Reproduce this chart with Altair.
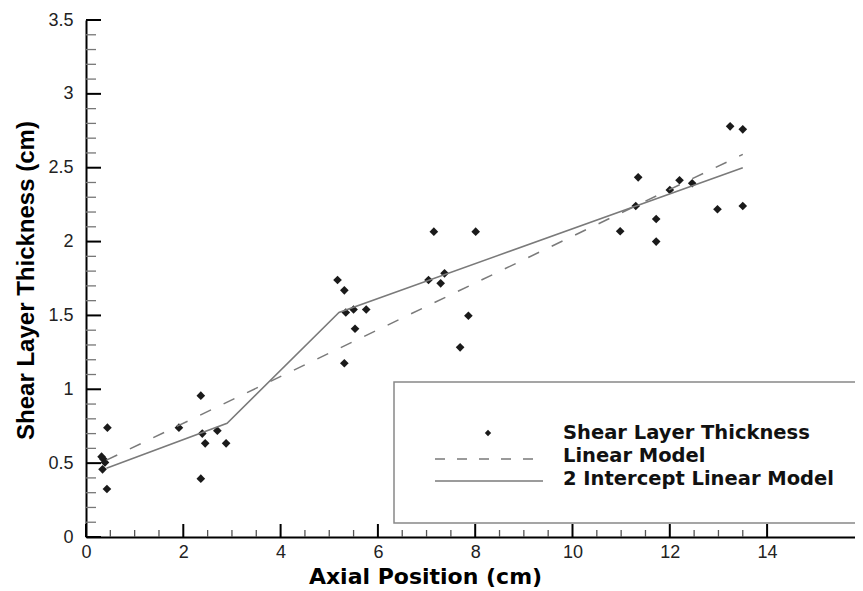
import altair as alt
import pandas as pd

# ---- data ----
pt_x = [0.32, 0.36, 0.39, 0.34, 0.43, 0.44,
        1.91, 2.36, 2.39, 2.45, 2.70, 2.88, 2.36,
        5.17, 5.31, 5.34, 5.50, 5.76, 5.53, 5.31,
        7.15, 8.01, 7.04, 7.37, 7.29, 7.86, 7.69,
        11.35, 11.30, 10.98, 11.72, 11.72, 12.00, 12.20, 12.46, 12.98, 13.50,
        13.24, 13.50]
pt_y = [0.544, 0.526, 0.505, 0.458, 0.325, 0.74,
        0.74, 0.957, 0.70, 0.634, 0.72, 0.634, 0.395,
        1.74, 1.67, 1.52, 1.54, 1.54, 1.41, 1.176,
        2.067, 2.067, 1.74, 1.785, 1.717, 1.498, 1.284,
        2.435, 2.241, 2.07, 2.153, 2.0, 2.349, 2.415, 2.395, 2.219, 2.241,
        2.78, 2.76]

lin_x = [0.42, 13.5]
lin_y = [0.52, 2.59]

two_x = [0.42, 2.9, 5.2, 13.5]
two_y = [0.465, 0.77, 1.52, 2.5]

x_major = [0, 2, 4, 6, 8, 10, 12, 14]
x_minor = [0.5, 1, 1.5, 2.5, 3, 3.5, 4.5, 5, 5.5, 6.5, 7, 7.5, 8.5, 9, 9.5,
           10.5, 11, 11.5, 12.5, 13, 13.5]
y_major = [0, 0.5, 1, 1.5, 2, 2.5, 3, 3.5]
y_minor = [0.1, 0.2, 0.3, 0.4, 0.6, 0.7, 0.8, 0.9, 1.1, 1.2, 1.3, 1.4,
           1.6, 1.7, 1.8, 1.9, 2.1, 2.2, 2.3, 2.4, 2.6, 2.7, 2.8, 2.9,
           3.1, 3.2, 3.3, 3.4]

legend_labels = ["Shear Layer Thickness", "Linear Model", "2 Intercept Linear Model"]

x_title = "Axial Position (cm)"
y_title = "Shear Layer Thickness (cm)"

# ---- layout ----
W = 769
H = 517
PX_PER_X = 48.65
X_MAX = W / PX_PER_X

xs = alt.Scale(domain=[0, X_MAX], nice=False, zero=False)
ys = alt.Scale(domain=[0, 3.5], nice=False)

LINE_COLOR = "#7a7a7a"

X_AX = alt.Axis(
    values=x_major, ticks=False, grid=False, domainColor="black", domainWidth=2,
    labelFont="Liberation Sans", labelFontSize=18, labelColor="#222",
    labelPadding=6, labelFlush=False, labelOverlap=False,
    title=x_title, titleFont="DejaVu Sans", titleFontSize=22, titleFontWeight="bold",
    titleColor="black", titleX=339, titleY=46, titleAlign="center",
    titleBaseline="alphabetic")
Y_AX = alt.Axis(
    values=y_major, format="~g", ticks=False, grid=False, domainColor="black",
    domainWidth=2, labelFont="Liberation Sans", labelFontSize=18, labelColor="#222",
    labelPadding=13, labelFlush=False, labelOverlap=False,
    title=y_title, titleFont="Liberation Sans", titleFontSize=24, titleFontWeight="bold",
    titleColor="black", titleX=-53, titleY=260, titleAngle=270, titleAlign="center",
    titleBaseline="alphabetic")


def X(field):
    return alt.X(field, scale=xs, axis=X_AX, title=x_title)


def Y(field):
    return alt.Y(field, scale=ys, axis=Y_AX, title=y_title)


pts_df = pd.DataFrame({"x": pt_x, "y": pt_y})
lin_df = pd.DataFrame({"x": lin_x, "y": lin_y})
two_df = pd.DataFrame({"x": two_x, "y": two_y})

points = alt.Chart(pts_df).mark_point(
    shape="diamond", filled=True, size=75, color="#1a1a1a", opacity=1
).encode(x=X("x:Q"), y=Y("y:Q"))

lin_line = alt.Chart(lin_df).mark_line(
    color=LINE_COLOR, strokeWidth=1.5, strokeDash=[12, 14]
).encode(x=X("x:Q"), y=Y("y:Q"))

two_line = alt.Chart(two_df).mark_line(
    color=LINE_COLOR, strokeWidth=1.5
).encode(x=X("x:Q"), y=Y("y:Q"))

# inward ticks
xmaj = alt.Chart(pd.DataFrame({"x": x_major})).mark_rule(color="black", strokeWidth=2).encode(
    x=X("x:Q"), y=alt.value(H), y2=alt.value(H - 13))
xmin = alt.Chart(pd.DataFrame({"x": x_minor})).mark_rule(color="#555", strokeWidth=1.3).encode(
    x=X("x:Q"), y=alt.value(H), y2=alt.value(H - 7))
ymaj = alt.Chart(pd.DataFrame({"y": y_major})).mark_rule(color="black", strokeWidth=2).encode(
    y=Y("y:Q"), x=alt.value(0), x2=alt.value(15))
ymin = alt.Chart(pd.DataFrame({"y": y_minor})).mark_rule(color="#777", strokeWidth=1.3).encode(
    y=Y("y:Q"), x=alt.value(0), x2=alt.value(10))

# legend (drawn by hand)
leg_box = alt.Chart(pd.DataFrame({"a": [0]})).mark_rect(
    fill="white", stroke="#888", strokeWidth=1.5
).encode(x=alt.value(308), x2=alt.value(W + 30), y=alt.value(362), y2=alt.value(503))

leg_pt = alt.Chart(pd.DataFrame({"a": [0]})).mark_point(
    shape="diamond", filled=True, size=40, color="#1a1a1a", opacity=1
).encode(x=alt.value(402), y=alt.value(413))

leg_dash = alt.Chart(pd.DataFrame({"a": [0]})).mark_rule(
    color=LINE_COLOR, strokeWidth=1.5, strokeDash=[10, 12]
).encode(x=alt.value(349), x2=alt.value(457), y=alt.value(439))

leg_solid = alt.Chart(pd.DataFrame({"a": [0]})).mark_rule(
    color=LINE_COLOR, strokeWidth=1.5
).encode(x=alt.value(349), x2=alt.value(457), y=alt.value(461))


def leg_text(i, ypx):
    return alt.Chart(pd.DataFrame({"t": [legend_labels[i]]})).mark_text(
        font="DejaVu Sans", fontSize=19.5, fontWeight="bold", color="#111",
        align="left", baseline="alphabetic"
    ).encode(text="t:N", x=alt.value(477), y=alt.value(ypx))


chart = alt.layer(
    points, xmin, ymin, xmaj, ymaj, lin_line, two_line,
    leg_box, leg_pt, leg_dash, leg_solid,
    leg_text(0, 419), leg_text(1, 442), leg_text(2, 465),
).properties(
    width=W, height=H,
    padding={"left": 78, "top": 12, "right": 0, "bottom": 54},
    autosize=alt.AutoSizeParams(type="none"),
    background="white",
).configure_view(stroke=None)

chart.save("out.html", embed_options={"renderer": "svg", "actions": False})
